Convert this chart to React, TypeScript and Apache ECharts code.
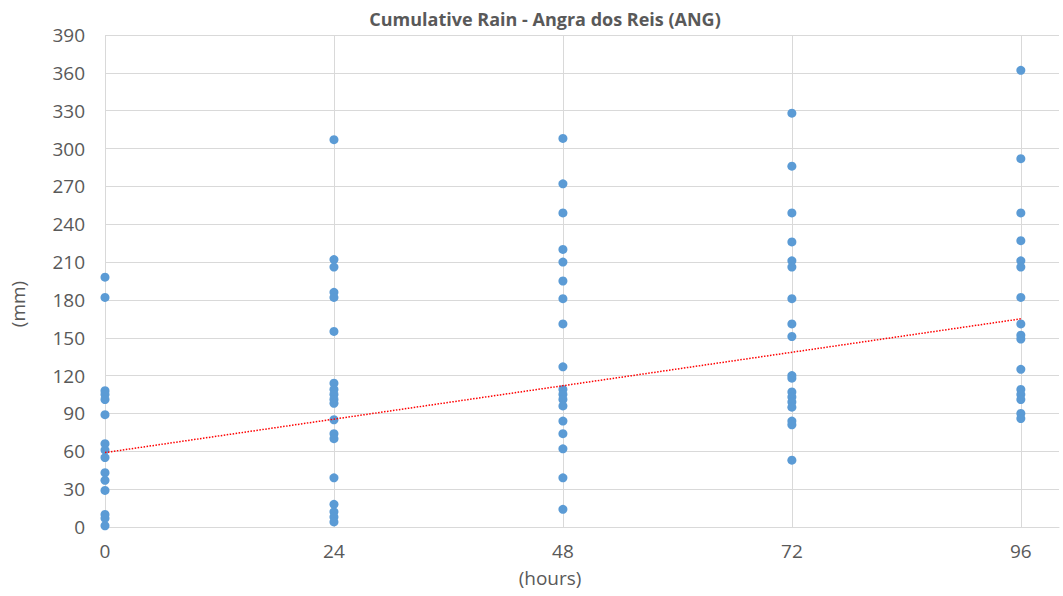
import React, { useEffect, useRef } from "react";
import * as echarts from "echarts";

const hours = [0, 24, 48, 72, 96];
const rain0 = [198, 182, 108, 105, 101, 89, 66, 61, 55, 43, 37, 29, 10, 7, 1];
const rain24 = [307, 212, 206, 186, 182, 155, 114, 109, 105, 101, 98, 85, 74, 70, 39, 18, 12, 8, 4];
const rain48 = [308, 272, 249, 220, 210, 195, 181, 161, 127, 109, 105, 101, 96, 84, 74, 62, 39, 14];
const rain72 = [328, 286, 249, 226, 211, 206, 181, 161, 151, 120, 118, 107, 103, 99, 95, 84, 81, 53];
const rain96 = [362, 292, 249, 227, 211, 206, 182, 161, 152, 149, 125, 109, 105, 101, 90, 86];
const trendX = [0, 96];
const trendY = [59, 165];

const titleText = "Cumulative Rain - Angra dos Reis (ANG)";
const xName = "(hours)";
const yName = "(mm)";

export default function App() {
  const ref = useRef<HTMLDivElement>(null);
  useEffect(() => {
    if (!ref.current) return;
    const chart = echarts.init(ref.current, null, { renderer: "svg" });
    const groups = [rain0, rain24, rain48, rain72, rain96];
    const points: number[][] = [];
    groups.forEach((g, i) => g.forEach((v) => points.push([hours[i], v])));
    const font = "'Open Sans', 'DejaVu Sans', sans-serif";
    const grey = "#595959";
    chart.setOption({
      animation: false,
      textStyle: { fontFamily: font },
      title: {
        text: titleText,
        left: 540,
        top: 5,
        textAlign: "center",
        textStyle: { fontFamily: font, fontSize: 18, fontWeight: "bold", color: grey },
      },
      grid: { left: 105, right: 4, top: 35, bottom: 69, containLabel: false },
      xAxis: {
        type: "value",
        min: 0,
        max: 100,
        interval: 24,
        axisLine: { show: true, lineStyle: { color: "#D9D9D9", width: 1 } },
        axisTick: { show: false },
        axisLabel: {
          fontFamily: font,
          fontSize: 19,
          color: grey,
          margin: 14,
          showMaxLabel: false,
          formatter: (v: number) => (v % 24 === 0 ? String(v) : ""),
        },
        splitLine: { show: true, showMaxLine: false, lineStyle: { color: "#D9D9D9", width: 1 } },
      },
      yAxis: {
        type: "value",
        min: 0,
        max: 390,
        interval: 30,
        axisLine: { show: false },
        axisTick: { show: false },
        axisLabel: { fontFamily: font, fontSize: 19, color: grey, margin: 20 },
        splitLine: { show: true, lineStyle: { color: "#D9D9D9", width: 1 } },
      },
      graphic: [
        {
          type: "text",
          x: 550,
          y: 578,
          style: {
            text: xName,
            fontFamily: font,
            fontSize: 19,
            fill: grey,
            textAlign: "center",
            textVerticalAlign: "middle",
          },
        },
        {
          type: "text",
          x: 18,
          y: 304,
          rotation: Math.PI / 2,
          style: {
            text: yName,
            fontFamily: font,
            fontSize: 19,
            fill: grey,
            textAlign: "center",
            textVerticalAlign: "middle",
          },
        },
      ],
      series: [
        {
          type: "scatter",
          data: points,
          symbol: "circle",
          symbolSize: 9,
          itemStyle: { color: "#5B9BD5", opacity: 1 },
          z: 3,
        },
        {
          type: "line",
          data: trendX.map((x, i) => [x, trendY[i]]),
          symbol: "none",
          lineStyle: { color: "#FF0000", width: 1.5, type: "dotted" },
          z: 4,
        },
      ],
    });
    return () => chart.dispose();
  }, []);
  return (
    <div
      ref={ref}
      style={{ position: "fixed", left: 0, top: 0, width: 1063, height: 596, background: "#fff" }}
    />
  );
}
